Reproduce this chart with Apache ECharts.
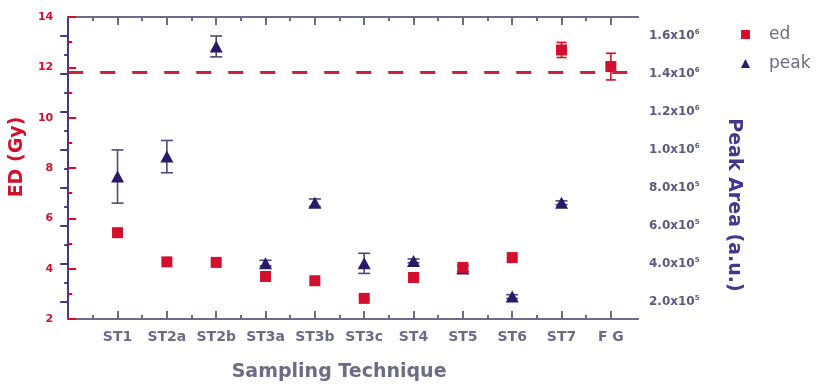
<!DOCTYPE html>
<html><head><meta charset="utf-8">
<script src="https://cdn.jsdelivr.net/npm/echarts@6/dist/echarts.min.js"></script>
<style>html,body{margin:0;padding:0;background:#fff}#c{width:823px;height:387px}</style>
</head><body><div id="c"></div>
<script>
const categories = ['ST1','ST2a','ST2b','ST3a','ST3b','ST3c','ST4','ST5','ST6','ST7','F G'];
const edValues   = [5.43, 4.27, 4.25, 3.69, 3.52, 2.82, 3.65, 4.05, 4.44, 12.69, 12.03];
const edErrors   = [0.05, 0.05, 0.05, 0.05, 0.05, 0.05, 0.05, 0.05, 0.05, 0.30, 0.53];
const peakValues = [8.6e5, 9.65e5, 1.545e6, 4.04e5, 7.22e5, 4.03e5, 4.16e5, 3.76e5, 2.28e5, 7.22e5, null];
const peakErrors = [1.4e5, 0.85e5, 0.55e5, 0.15e5, 0.2e5, 0.53e5, 0.1e5, 0.15e5, 0.1e5, 0.1e5, null];
const edTicks = [2, 4, 6, 8, 10, 12, 14];
const peakTicks = [2e5, 4e5, 6e5, 8e5, 1.0e6, 1.2e6, 1.4e6, 1.6e6];
const peakMinorTicks = [3e5, 5e5, 7e5, 9e5, 1.1e6, 1.3e6, 1.5e6];
const edReference = 11.8;

const RED = '#d20f2c';
const NAVY = '#2a1868';
const PURPLE = '#46368e';
const GRAY = '#6c6c84';
const FONT = 'DejaVu Sans';

const xPos = categories.map((c, i) => i + 1);
const xMinor = categories.map((c, i) => i + 0.5);

function supLabel(v) {
  const e = Math.floor(Math.log10(v) + 1e-9);
  const m = (v / Math.pow(10, e)).toFixed(1);
  return '{b|' + m + 'x10}{s|' + e + '}';
}

function errorSeries(name, vals, errs, yIdx, color, cap) {
  const data = [];
  vals.forEach((v, i) => { if (v != null) data.push([xPos[i], v - errs[i], v + errs[i]]); });
  return {
    type: 'custom', name: name, xAxisIndex: 0, yAxisIndex: yIdx, z: 2,
    encode: { x: 0, y: [1, 2] },
    renderItem: function (params, api) {
      const x = api.value(0);
      const p1 = api.coord([x, api.value(1)]);
      const p2 = api.coord([x, api.value(2)]);
      const s = { stroke: color, lineWidth: 1.6 };
      return { type: 'group', children: [
        { type: 'line', shape: { x1: p1[0], y1: p1[1], x2: p2[0], y2: p2[1] }, style: s },
        { type: 'line', shape: { x1: p1[0] - cap, y1: p1[1], x2: p1[0] + cap, y2: p1[1] }, style: s },
        { type: 'line', shape: { x1: p2[0] - cap, y1: p2[1], x2: p2[0] + cap, y2: p2[1] }, style: s }
      ]};
    },
    data: data,
    silent: true
  };
}

const xBase = {
  type: 'value', min: 0, max: 11.55, splitLine: { show: false },
  axisLine: { show: true, lineStyle: { color: GRAY, width: 2 } },
  axisLabel: { show: false }
};

const chart = echarts.init(document.getElementById('c'));
chart.setOption({
  animation: false,
  backgroundColor: '#fff',
  textStyle: { fontFamily: FONT },
  grid: { left: 60, right: 185, top: 17, bottom: 67, containLabel: false },
  legend: {
    orient: 'vertical', left: 736, top: 21, itemWidth: 9, itemHeight: 9, itemGap: 12,
    textStyle: { color: GRAY, fontSize: 17, fontFamily: FONT, padding: [0, 0, 0, 14] },
    data: [{ name: 'ed', icon: 'rect' }, { name: 'peak', icon: 'triangle' }]
  },
  xAxis: [
    Object.assign({}, xBase, {
      position: 'bottom',
      axisTick: { show: true, inside: true, length: 8, customValues: xPos, lineStyle: { color: GRAY, width: 2 } },
      axisLabel: { show: true, customValues: xPos, margin: 11, color: GRAY, fontWeight: 'bold', fontSize: 14, fontFamily: FONT,
        formatter: v => { const i = Math.round(v) - 1; return (Math.abs(v - Math.round(v)) < 1e-6 && i >= 0 && i < categories.length) ? categories[i] : ''; } },
      name: 'Sampling Technique', nameLocation: 'middle', nameGap: 44,
      nameTextStyle: { color: GRAY, fontWeight: 'bold', fontSize: 19, fontFamily: FONT, padding: [0, 28, 0, 0] }
    }),
    Object.assign({}, xBase, {
      position: 'bottom',
      axisTick: { show: true, inside: true, length: 4, customValues: xMinor, lineStyle: { color: GRAY, width: 2 } }
    }),
    Object.assign({}, xBase, {
      position: 'top',
      axisTick: { show: true, inside: true, length: 8, customValues: xPos, lineStyle: { color: GRAY, width: 2 } }
    }),
    Object.assign({}, xBase, {
      position: 'top',
      axisTick: { show: true, inside: true, length: 4, customValues: xMinor, lineStyle: { color: GRAY, width: 2 } }
    })
  ],
  yAxis: [
    {
      type: 'value', position: 'left', min: 2, max: 14, interval: 2, splitLine: { show: false },
      axisLine: { show: true, lineStyle: { color: RED, width: 2 } },
      axisTick: { show: true, inside: true, length: 8, lineStyle: { color: RED, width: 2 } },
      minorTick: { show: true, splitNumber: 2, length: 4, lineStyle: { color: RED, width: 2 } },
      axisLabel: { color: RED, fontWeight: 'bold', fontSize: 11, fontFamily: FONT, margin: 15 },
      name: 'ED (Gy)', nameLocation: 'middle', nameGap: 36, nameRotate: 90,
      nameTextStyle: { color: RED, fontWeight: 'bold', fontSize: 19, fontFamily: FONT, padding: [0, 0, 0, 22] }
    },
    {
      type: 'value', position: 'right', min: 1.1e5, max: 1.7e6, splitLine: { show: false },
      axisLine: { show: true, lineStyle: { color: PURPLE, width: 2 } },
      axisTick: { show: true, inside: true, length: 8, customValues: peakTicks, lineStyle: { color: PURPLE, width: 2 } },
      axisLabel: { customValues: peakTicks, margin: 11, formatter: supLabel,
        rich: {
          b: { color: '#5a5a7e', fontWeight: 'bold', fontSize: 12, fontFamily: FONT },
          s: { color: '#5a5a7e', fontWeight: 'bold', fontSize: 7, fontFamily: FONT, padding: [0, 0, 8, 0] }
        } },
      name: 'Peak Area (a.u.)', nameLocation: 'middle', nameGap: 86, nameRotate: -90,
      nameTextStyle: { color: PURPLE, fontWeight: 'bold', fontSize: 19, fontFamily: FONT, padding: [0, 0, 0, 74] }
    },
    {
      type: 'value', position: 'right', min: 1.1e5, max: 1.7e6, splitLine: { show: false },
      axisLine: { show: true, lineStyle: { color: PURPLE, width: 2 } },
      axisTick: { show: true, inside: true, length: 4, customValues: peakMinorTicks, lineStyle: { color: PURPLE, width: 2 } },
      axisLabel: { show: false }
    }
  ],
  series: [
    errorSeries('ed-err', edValues, edErrors, 0, RED, 5),
    errorSeries('peak-err', peakValues, peakErrors, 1, '#4a4a78', 6),
    {
      name: 'peak', type: 'scatter', xAxisIndex: 0, yAxisIndex: 1, z: 3,
      symbol: 'triangle', symbolSize: [13, 12],
      itemStyle: { color: NAVY, opacity: 1 },
      data: peakValues.map((v, i) => v == null ? null : [xPos[i], v]).filter(d => d)
    },
    {
      name: 'ed', type: 'scatter', xAxisIndex: 0, yAxisIndex: 0, z: 4,
      symbol: 'rect', symbolSize: 11,
      itemStyle: { color: RED, opacity: 1 },
      data: edValues.map((v, i) => [xPos[i], v]),
      markLine: {
        silent: true, symbol: 'none', label: { show: false },
        lineStyle: { color: '#c8243a', width: 3, type: [15, 17], opacity: 1 },
        data: [{ yAxis: edReference }]
      }
    }
  ]
});
</script>
</body></html>
